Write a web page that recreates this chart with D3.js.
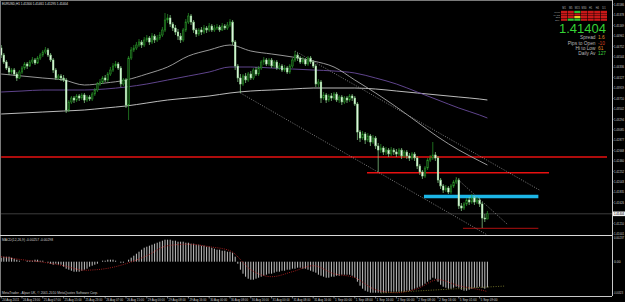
<!DOCTYPE html>
<html>
<head>
<meta charset="utf-8">
<script src="https://cdn.jsdelivr.net/npm/d3@7/dist/d3.min.js"></script>
<style>
  body { margin: 0; background: #000; }
  svg { display: block; font-family: "Liberation Sans", Arial, sans-serif; }
</style>
</head>
<body>
<div id="graph-container"></div>
<script>
// EURUSD H1, 24 Aug 15:00 -> 5 Sep, one entry per bar (open = previous close)
const firstOpen = 1.4472
const closes = [
  1.4458, 1.4444, 1.4432, 1.4424, 1.4428, 1.4420, 1.4412, 1.4424, 1.4432, 1.4440,
  1.4436, 1.4444, 1.4448, 1.4442, 1.4452, 1.4458, 1.4464, 1.4468, 1.4458, 1.4448,
  1.4428, 1.4412, 1.4416, 1.4412, 1.4408, 1.4348, 1.4364, 1.4372, 1.4368, 1.4376,
  1.4372, 1.4378, 1.4368, 1.4374, 1.4370, 1.4380, 1.4388, 1.4400, 1.4404, 1.4412,
  1.4408, 1.4420, 1.4428, 1.4436, 1.4440, 1.4432, 1.4400, 1.4408, 1.4358, 1.4452,
  1.4468, 1.4472, 1.4478, 1.4484, 1.4478, 1.4488, 1.4492, 1.4484, 1.4496, 1.4488,
  1.4492, 1.4498, 1.4508, 1.4528, 1.4532, 1.4520, 1.4512, 1.4504, 1.4496, 1.4488,
  1.4508, 1.4524, 1.4536, 1.4524, 1.4508, 1.4500, 1.4508, 1.4504, 1.4512, 1.4508,
  1.4516, 1.4508, 1.4512, 1.4514, 1.4508, 1.4516, 1.4512, 1.4518, 1.4524, 1.4484,
  1.4436, 1.4412, 1.4400, 1.4416, 1.4408, 1.4420, 1.4412, 1.4428, 1.4420, 1.4432,
  1.4444, 1.4448, 1.4440, 1.4448, 1.4436, 1.4444, 1.4432, 1.4436, 1.4428, 1.4432,
  1.4424, 1.4436, 1.4448, 1.4458, 1.4452, 1.4444, 1.4448, 1.4440, 1.4452, 1.4444,
  1.4436, 1.4400, 1.4404, 1.4372, 1.4378, 1.4368, 1.4376, 1.4372, 1.4380, 1.4368,
  1.4374, 1.4364, 1.4372, 1.4368, 1.4376, 1.4372, 1.4360, 1.4304, 1.4292, 1.4300,
  1.4288, 1.4296, 1.4284, 1.4292, 1.4276, 1.4268, 1.4272, 1.4264, 1.4268, 1.4260,
  1.4268, 1.4264, 1.4260, 1.4268, 1.4256, 1.4264, 1.4256, 1.4252, 1.4260, 1.4252,
  1.4236, 1.4224, 1.4216, 1.4232, 1.4248, 1.4252, 1.4258, 1.4252, 1.4208, 1.4196,
  1.4188, 1.4192, 1.4184, 1.4196, 1.4204, 1.4208, 1.4156, 1.4152, 1.4160, 1.4168,
  1.4164, 1.4172, 1.4164, 1.4168, 1.4160, 1.4132, 1.4130, 1.41404
]
const highs = [
  1.4478, 1.4462, 1.4448, 1.4436, 1.4432, 1.4432, 1.4424, 1.4428, 1.4436, 1.4444,
  1.4444, 1.4448, 1.4454, 1.4452, 1.4456, 1.4462, 1.4468, 1.4474, 1.4472, 1.4462,
  1.4452, 1.4432, 1.4420, 1.4420, 1.4418, 1.4412, 1.4368, 1.4376, 1.4376, 1.4380,
  1.4380, 1.4382, 1.4382, 1.4378, 1.4378, 1.4384, 1.4392, 1.4404, 1.4410, 1.4416,
  1.4418, 1.4424, 1.4434, 1.4442, 1.4446, 1.4444, 1.4436, 1.4412, 1.4412, 1.4456,
  1.4474, 1.4478, 1.4484, 1.4490, 1.4488, 1.4494, 1.4498, 1.4496, 1.4502, 1.4500,
  1.4498, 1.4504, 1.4514, 1.4542, 1.4540, 1.4538, 1.4524, 1.4518, 1.4510, 1.4502,
  1.4512, 1.4530, 1.4542, 1.4540, 1.4528, 1.4512, 1.4512, 1.4514, 1.4518, 1.4516,
  1.4522, 1.4520, 1.4518, 1.4520, 1.4518, 1.4522, 1.4520, 1.4524, 1.4530, 1.4528,
  1.4488, 1.4440, 1.4420, 1.4420, 1.4422, 1.4424, 1.4426, 1.4432, 1.4434, 1.4436,
  1.4448, 1.4454, 1.4452, 1.4452, 1.4452, 1.4448, 1.4448, 1.4442, 1.4440, 1.4438,
  1.4436, 1.4440, 1.4452, 1.4466, 1.4462, 1.4456, 1.4454, 1.4452, 1.4456, 1.4456,
  1.4448, 1.4440, 1.4410, 1.4408, 1.4384, 1.4382, 1.4380, 1.4382, 1.4384, 1.4384,
  1.4378, 1.4378, 1.4376, 1.4376, 1.4380, 1.4380, 1.4376, 1.4364, 1.4308, 1.4306,
  1.4304, 1.4302, 1.4300, 1.4298, 1.4296, 1.4282, 1.4280, 1.4276, 1.4274, 1.4272,
  1.4274, 1.4272, 1.4270, 1.4272, 1.4272, 1.4268, 1.4268, 1.4262, 1.4264, 1.4264,
  1.4256, 1.4240, 1.4228, 1.4236, 1.4252, 1.4258, 1.4284, 1.4264, 1.4256, 1.4212,
  1.4200, 1.4198, 1.4196, 1.4200, 1.4208, 1.4214, 1.4212, 1.4162, 1.4164, 1.4172,
  1.4174, 1.4180, 1.4176, 1.4174, 1.4172, 1.4164, 1.4140, 1.41461
]
const lows = [
  1.4452, 1.4440, 1.4428, 1.4418, 1.4420, 1.4416, 1.4406, 1.4410, 1.4420, 1.4428,
  1.4430, 1.4434, 1.4440, 1.4438, 1.4440, 1.4448, 1.4454, 1.4460, 1.4454, 1.4444,
  1.4422, 1.4408, 1.4408, 1.4406, 1.4404, 1.4342, 1.4344, 1.4360, 1.4362, 1.4364,
  1.4366, 1.4368, 1.4362, 1.4364, 1.4366, 1.4366, 1.4376, 1.4384, 1.4396, 1.4400,
  1.4404, 1.4404, 1.4416, 1.4424, 1.4432, 1.4428, 1.4394, 1.4396, 1.4352, 1.4328,
  1.4448, 1.4464, 1.4468, 1.4474, 1.4472, 1.4474, 1.4484, 1.4478, 1.4480, 1.4482,
  1.4484, 1.4488, 1.4494, 1.4504, 1.4522, 1.4514, 1.4506, 1.4498, 1.4488, 1.4482,
  1.4484, 1.4504, 1.4520, 1.4518, 1.4502, 1.4494, 1.4496, 1.4498, 1.4500, 1.4502,
  1.4504, 1.4504, 1.4504, 1.4508, 1.4504, 1.4506, 1.4508, 1.4508, 1.4514, 1.4478,
  1.4428, 1.4404, 1.4382, 1.4396, 1.4402, 1.4404, 1.4408, 1.4408, 1.4416, 1.4416,
  1.4428, 1.4438, 1.4436, 1.4436, 1.4432, 1.4432, 1.4428, 1.4428, 1.4424, 1.4424,
  1.4420, 1.4420, 1.4432, 1.4444, 1.4446, 1.4440, 1.4440, 1.4436, 1.4436, 1.4440,
  1.4432, 1.4394, 1.4394, 1.4362, 1.4368, 1.4362, 1.4364, 1.4366, 1.4368, 1.4364,
  1.4362, 1.4358, 1.4360, 1.4362, 1.4364, 1.4366, 1.4356, 1.4288, 1.4284, 1.4288,
  1.4280, 1.4284, 1.4276, 1.4280, 1.4270, 1.4224, 1.4262, 1.4258, 1.4258, 1.4254,
  1.4256, 1.4258, 1.4254, 1.4256, 1.4250, 1.4252, 1.4250, 1.4246, 1.4248, 1.4246,
  1.4230, 1.4218, 1.4210, 1.4212, 1.4228, 1.4244, 1.4248, 1.4246, 1.4202, 1.4190,
  1.4182, 1.4184, 1.4180, 1.4180, 1.4192, 1.4200, 1.4150, 1.4146, 1.4148, 1.4156,
  1.4158, 1.4160, 1.4158, 1.4160, 1.4154, 1.4112, 1.4124, 1.41295
]

// moving averages, read every 8 bars
const maIdx = [0, 8, 16, 24, 32, 40, 48, 56, 64, 72, 80, 88, 96, 104, 112, 120, 128, 136, 144, 152, 160, 168, 176, 184, 187]
const maFast = [1.4420, 1.4416, 1.4412, 1.4408, 1.4398, 1.4402, 1.4408, 1.4420, 1.4434, 1.4456, 1.4468, 1.4478, 1.4466, 1.4460, 1.4454, 1.4446, 1.4434, 1.4408, 1.4382, 1.4354, 1.4324, 1.4294, 1.4268, 1.4246, 1.4238]
const maMid = [1.4384, 1.4386, 1.4388, 1.4388, 1.4388, 1.4390, 1.4394, 1.4400, 1.4408, 1.4416, 1.4424, 1.4434, 1.4434, 1.4432, 1.4430, 1.4428, 1.4426, 1.4422, 1.4412, 1.4400, 1.4384, 1.4368, 1.4352, 1.4338, 1.4332]
const maSlow = [1.4340, 1.4342, 1.4344, 1.4346, 1.4348, 1.4352, 1.4356, 1.4362, 1.4368, 1.4372, 1.4376, 1.4382, 1.4386, 1.4388, 1.4390, 1.4392, 1.4392, 1.4392, 1.4390, 1.4386, 1.4382, 1.4378, 1.4374, 1.4370, 1.4368]

// MACD(12,26,9) histogram per bar and signal line
const macdHist = [
  0.0004, 0.0005, 0.0005, 0.0005, 0.0004, 0.0003, 0.0002, 0.0001,
  0.0000, 0.0000, 0.0001, 0.0001, 0.0001, 0.0002, 0.0002, 0.0001, 0.0001, 0.0000, -0.0001, -0.0002, -0.0003, -0.0002, -0.0003,
  -0.0003, -0.0005, -0.0007, -0.0008, -0.0009, -0.0010, -0.0010, -0.0010, -0.0009, -0.0008, -0.0007, -0.0005, -0.0004, -0.0003, -0.0002,
  0.0000, 0.0001, 0.0001, 0.0002, 0.0002, 0.0002, 0.0001, 0.0000, -0.0001, -0.0001, 0.0000, 0.0002, 0.0004, 0.0006,
  0.0008, 0.0010, 0.0012, 0.0014, 0.0015, 0.0016, 0.0017, 0.0018, 0.0019, 0.0020, 0.0021, 0.0022, 0.0022, 0.0022, 0.0021, 0.0021, 0.0020, 0.0020, 0.0020, 0.0019, 0.0019, 0.0018, 0.0018, 0.0017, 0.0017,
  0.0016, 0.0016, 0.0015, 0.0015, 0.0014, 0.0013, 0.0012, 0.0012, 0.0011, 0.0011, 0.0010, 0.0010, 0.0009,
  0.0005, -0.0002, -0.0008, -0.0012, -0.0015, -0.0017, -0.0018, -0.0018, -0.0017,
  -0.0016, -0.0015, -0.0014, -0.0013, -0.0012, -0.0012, -0.0011, -0.0010, -0.0010, -0.0009, -0.0009, -0.0008, -0.0008, -0.0007, -0.0007, -0.0006, -0.0006, -0.0007, -0.0007, -0.0008, -0.0009, -0.0010, -0.0011,
  -0.0013, -0.0014, -0.0015, -0.0016, -0.0016, -0.0015, -0.0015, -0.0014, -0.0014, -0.0013, -0.0013, -0.0013, -0.0013, -0.0014, -0.0016,
  -0.0020, -0.0024, -0.0027, -0.0029, -0.0030, -0.0031, -0.0031, -0.0031, -0.0031, -0.0031, -0.0031, -0.0031, -0.0030, -0.0030, -0.0030, -0.0030, -0.0030, -0.0030, -0.0030, -0.0029,
  -0.0029, -0.0028, -0.0027, -0.0026, -0.0025, -0.0024, -0.0022, -0.0020, -0.0018, -0.0016, -0.0017, -0.0020,
  -0.0023, -0.0025, -0.0026, -0.0027, -0.0027, -0.0026, -0.0025, -0.0026,
  -0.0028, -0.0029, -0.0029, -0.0028, -0.0027, -0.0026, -0.0026, -0.0025, -0.0026, -0.0027, -0.00257
]
const macdSignal = [0.0005, 0.0002, -0.00005, -0.0004, -0.00085, -0.0007, -0.0002, 0.0006, 0.0016, 0.00175, 0.0015, 0.0011, -0.0008, -0.0015, -0.0010, -0.0004, -0.0012, -0.0016, -0.0028, -0.0031, -0.0027, -0.0018, -0.0024, -0.0028, -0.00298]

// objects drawn on the chart: [bar, price] pairs
const hLevels = [1.4254, 1.42226, 1.41748, 1.41114]
const hLevelFrom = [0, 140.7, 162.6, 177.6]
const hLevelTo = [233, 210.7, 206.6, 206.6]
const channelLow = [[92, 1.4382], [187, 1.4098]]
const channelHigh = [[113, 1.4466], [207, 1.4188]]
const shortTrend = [[175, 1.4212], [195, 1.4118]]
const macdTrend = [[146, -0.00313], [194, -0.00243]]

const priceTicks = [1.45586, 1.45378, 1.45169, 1.44961, 1.44752, 1.44544, 1.44336, 1.44127, 1.43919, 1.43710, 1.43502, 1.43294, 1.43085, 1.42877, 1.42668, 1.42460, 1.42252, 1.42043, 1.41835, 1.41626, 1.41210, 1.41001]
const lastPrice = 1.41404
const dateLabels = ["24 Aug 2011", "24 Aug 23:00", "25 Aug 07:00", "25 Aug 15:00", "25 Aug 23:00", "26 Aug 07:00", "26 Aug 15:00", "29 Aug 00:00",
  "29 Aug 08:00", "29 Aug 16:00", "30 Aug 00:00", "30 Aug 08:00", "30 Aug 16:00", "31 Aug 00:00", "31 Aug 08:00", "31 Aug 16:00",
  "1 Sep 00:00", "1 Sep 08:00", "1 Sep 16:00", "2 Sep 00:00", "2 Sep 08:00", "2 Sep 16:00", "5 Sep 01:00", "5 Sep 09:00"]

// info panel
const tfNames = ["M1", "M5", "M15", "M30", "H1", "H4", "D1"]
const panelRows = ["Trend", "MACD", "STR", "EMA"]
const panelCells = [
  ["r", "r", "g", "r", "r", "r", "r"],
  ["r", "r", "r", "r", "r", "r", "r"],
  ["r", "r", "y", "r", "r", "r", "r"],
  ["r", "g", "g", "r", "r", "r", "r"]
]
const infoNames = ["Spread", "Pips to Open", "Hi to Low", "Daily Av"]
const infoValues = ["1.6", "-10", "61", "127"]
const infoColors = ["#e08a2a", "#d04020", "#e08a2a", "#3ccf3c"]

const W = 625, H = 302
const AXIS_X = 612, MAIN_B = 235, IND_T = 236, IND_B = 296

const svg = d3.select("#graph-container")
  .append("svg")
  .attr("width", W)
  .attr("height", H)
  .style("background", "#000")

const x = d3.scaleLinear().domain([0, 235]).range([1.2, 612.2])
const y = d3.scaleLinear().domain([1.41000, 1.45680]).range([234, 0])
const ym = d3.scaleLinear().domain([-0.00323, 0.00237]).range([294, 238])

function addLine(group, x1, y1, x2, y2, color, width, dash) {
  const l = group.append("line")
    .attr("x1", x1).attr("y1", y1)
    .attr("x2", x2).attr("y2", y2)
    .style("stroke", color)
    .style("stroke-width", width)
  if (dash) l.style("stroke-dasharray", dash)
  return l
}

// fit = squeeze the text into that many pixels (the screenshot was scaled down)
function addText(group, tx, ty, txt, size, color, anchor, fit) {
  const t = group.append("text")
    .attr("x", tx).attr("y", ty)
    .attr("font-size", size)
    .attr("fill", color)
    .attr("text-anchor", anchor || "start")
    .text(txt)
  if (fit) t.attr("textLength", fit).attr("lengthAdjust", "spacingAndGlyphs")
  return t
}

svg.append("clipPath").attr("id", "main-clip")
  .append("rect").attr("x", 1).attr("y", 1).attr("width", AXIS_X - 1).attr("height", MAIN_B - 1)
svg.append("clipPath").attr("id", "ind-clip")
  .append("rect").attr("x", 1).attr("y", IND_T).attr("width", AXIS_X - 1).attr("height", IND_B - IND_T)

const main = svg.append("g").attr("clip-path", "url(#main-clip)")

// horizontal levels
const levelColors = ["#e81010", "#e81010", "#1cb6e6", "#b01010"]
const levelWidths = [1.5, 1.5, 3.5, 1]
hLevels.forEach(function (p, k) {
  addLine(main, x(hLevelFrom[k]), y(p), x(hLevelTo[k]), y(p), levelColors[k], levelWidths[k])
})
// bid line
addLine(main, 0, y(lastPrice), AXIS_X, y(lastPrice), "#3c3c3c", 1)

// moving averages
const maLine = d3.line()
  .x(function (d) { return x(d[0]) })
  .y(function (d) { return y(d[1]) })
  .curve(d3.curveMonotoneX)
function drawMa(vals, color, width) {
  main.append("path")
    .attr("d", maLine(maIdx.map(function (i, k) { return [i, vals[k]] })))
    .style("fill", "none")
    .style("stroke", color)
    .style("stroke-width", width)
}
drawMa(maSlow, "#d0d0d0", 0.9)
drawMa(maMid, "#6a4c9c", 0.9)
drawMa(maFast, "#a8a8a8", 0.9)

// trend lines
;[channelLow, channelHigh, shortTrend].forEach(function (t) {
  addLine(main, x(t[0][0]), y(t[0][1]), x(t[1][0]), y(t[1][1]), "#9a9a9a", 0.8, "1,1.5")
})

// candles
const candles = main.append("g")
closes.forEach(function (c, i) {
  const o = i === 0 ? firstOpen : closes[i - 1]
  const cx = x(i)
  const bull = c >= o
  addLine(candles, cx, y(highs[i]), cx, y(lows[i]), bull ? "#2a9a2a" : "#8fd88f", 0.7)
  const top = y(Math.max(o, c)), bot = y(Math.min(o, c))
  candles.append("rect")
    .attr("x", cx - 0.8)
    .attr("y", top)
    .attr("width", 1.6)
    .attr("height", Math.max(bot - top, 0.6))
    .style("fill", bull ? "#0f3a0f" : "#e4f8e4")
    .style("stroke", bull ? "#2a9a2a" : "#9be09b")
    .style("stroke-width", 0.5)
})

// header text
addText(svg, 2, 5, "EURUSD,H1  1.41300 1.41461 1.41295 1.41404", 3.6, "#e0e0e0", "start", 66)

// info panel
const panel = svg.append("g")
const colX = d3.scaleBand().domain(tfNames).range([561, 607]).paddingInner(0.08)
const rowY = d3.scaleBand().domain(panelRows).range([10.8, 20.8]).paddingInner(0.15)
const cellColor = { r: "#c81818", g: "#2fbf2f", y: "#e8d020" }
tfNames.forEach(function (t) {
  addText(panel, colX(t) + colX.bandwidth() / 2, 9.4, t, 2.6, "#b0b0b0", "middle")
})
panelRows.forEach(function (r, ri) {
  addText(panel, 560, rowY(r) + rowY.bandwidth(), r, 2.2, "#b0b0b0", "end")
  tfNames.forEach(function (t, ci) {
    panel.append("rect")
      .attr("x", colX(t)).attr("y", rowY(r))
      .attr("width", colX.bandwidth()).attr("height", rowY.bandwidth())
      .style("fill", cellColor[panelCells[ri][ci]])
  })
})
addText(panel, 606, 32.6, "1.41404", 13, "#35d335", "end")
infoNames.forEach(function (n, k) {
  addText(panel, 595.5, 39.4 + k * 5.2, n, 4.8, "#b8b8b8", "end")
  addText(panel, 598, 39.4 + k * 5.2, infoValues[k], 4.8, infoColors[k])
})

// separator and frame
addLine(svg, 0, 0.5, AXIS_X, 0.5, "#7a7a7a", 1)
addLine(svg, 0.5, 0, 0.5, IND_B, "#7a7a7a", 1)
addLine(svg, 0, MAIN_B + 0.5, AXIS_X, MAIN_B + 0.5, "#d8d8d8", 1)
addLine(svg, AXIS_X + 0.5, 0, AXIS_X + 0.5, IND_B, "#c8c8c8", 1)
addLine(svg, 0, IND_B + 0.5, AXIS_X, IND_B + 0.5, "#c8c8c8", 1)

// price axis
const axisG = svg.append("g")
priceTicks.forEach(function (p) {
  addLine(axisG, AXIS_X, y(p), AXIS_X + 1.5, y(p), "#c8c8c8", 0.6)
  addText(axisG, AXIS_X + 2, y(p) + 1.2, p.toFixed(5), 3.4, "#d0d0d0", "start", 10)
})
axisG.append("rect")
  .attr("x", AXIS_X + 1).attr("y", y(lastPrice) - 2.3)
  .attr("width", W - AXIS_X - 1).attr("height", 4.6)
  .style("fill", "#f0f0f0")
addText(axisG, AXIS_X + 2, y(lastPrice) + 1.2, lastPrice.toFixed(5), 3.4, "#000", "start", 10)

// MACD window
const ind = svg.append("g").attr("clip-path", "url(#ind-clip)")
macdHist.forEach(function (v, i) {
  addLine(ind, x(i), ym(0), x(i), ym(v), "#c4c4c4", 1)
})
const sigLine = d3.line()
  .x(function (d) { return x(d[0]) })
  .y(function (d) { return ym(d[1]) })
  .curve(d3.curveMonotoneX)
ind.append("path")
  .attr("d", sigLine(maIdx.map(function (i, k) { return [i, macdSignal[k]] })))
  .style("fill", "none")
  .style("stroke", "#b02020")
  .style("stroke-width", 0.9)
  .style("stroke-dasharray", "1,1.2")
addLine(ind, x(macdTrend[0][0]), ym(macdTrend[0][1]), x(macdTrend[1][0]), ym(macdTrend[1][1]), "#8a8a30", 0.8, "1,1.5")

addText(svg, 2, 240.5, "MACD(12,26,9) -0.00257 -0.00298", 3.4, "#d0d0d0", "start", 51)
addText(svg, 2, 294, "MetaTrader - Alpari UK, \u00a9 2001-2010 MetaQuotes Software Corp.", 3.4, "#d0d0d0", "start", 96)
addText(svg, AXIS_X + 2, 239.3, "0.00237", 3.4, "#d0d0d0", "start", 10)
addText(svg, AXIS_X + 2, ym(0) + 1.2, "0.00", 3.4, "#d0d0d0")
addText(svg, AXIS_X + 1.5, 293.6, "-0.00323", 3.1, "#d0d0d0", "start", 9.5)

// time axis
dateLabels.forEach(function (t, k) {
  const tx = x(k * 8)
  addLine(svg, tx, IND_B, tx, IND_B + 2.5, "#c8c8c8", 0.6)
  addText(svg, tx + 1, 300.8, t, 3.4, "#d0d0d0", "start", 17)
})
</script>
</body>
</html>
